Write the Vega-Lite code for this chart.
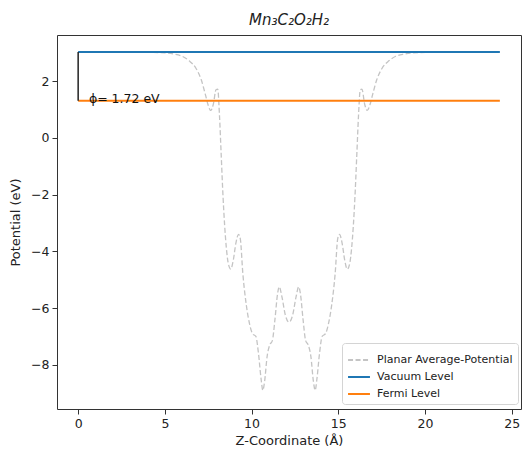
{
  "$schema": "https://vega.github.io/schema/vega-lite/v6.json",
  "width": 464,
  "height": 374,
  "autosize": {"type": "none"},
  "padding": {"left": 57, "top": 35, "right": 2, "bottom": 46},
  "background": "white",
  "config": {
    "font": "DejaVu Sans",
    "view": {"stroke": "#333333", "strokeWidth": 1},
    "axis": {"grid": false, "domain": false, "tickColor": "#333333", "tickSize": 5, "labelColor": "#222222", "titleColor": "#222222", "labelFontSize": 12.5, "titleFontSize": 13, "titleFontWeight": "normal", "labelPadding": 3},
    "legend": {"orient": "none", "legendX": 285, "legendY": 308, "fillColor": "white", "strokeColor": "#d4d4d4", "cornerRadius": 3, "padding": 5, "symbolType": "stroke", "symbolSize": 480, "symbolStrokeWidth": 2, "labelFontSize": 11, "labelColor": "#222222", "rowPadding": 0, "labelOffset": 6}
  },
  "title": {"text": "Mn₃C₂O₂H₂", "fontStyle": "italic", "fontWeight": "normal", "fontSize": 15, "color": "#222222", "offset": 7},
  "data": {"values": [
    {"z": 0, "v": 3.03, "series": "Planar Average-Potential"},
    {"z": 2, "v": 3.03, "series": "Planar Average-Potential"},
    {"z": 4, "v": 3.02, "series": "Planar Average-Potential"},
    {"z": 5, "v": 3.0, "series": "Planar Average-Potential"},
    {"z": 5.5, "v": 2.96, "series": "Planar Average-Potential"},
    {"z": 6.0, "v": 2.88, "series": "Planar Average-Potential"},
    {"z": 6.4, "v": 2.72, "series": "Planar Average-Potential"},
    {"z": 6.8, "v": 2.45, "series": "Planar Average-Potential"},
    {"z": 7.1, "v": 2.05, "series": "Planar Average-Potential"},
    {"z": 7.35, "v": 1.5, "series": "Planar Average-Potential"},
    {"z": 7.5, "v": 1.15, "series": "Planar Average-Potential"},
    {"z": 7.65, "v": 0.97, "series": "Planar Average-Potential"},
    {"z": 7.8, "v": 1.2, "series": "Planar Average-Potential"},
    {"z": 7.95, "v": 1.7, "series": "Planar Average-Potential"},
    {"z": 8.05, "v": 1.72, "series": "Planar Average-Potential"},
    {"z": 8.15, "v": 0.8, "series": "Planar Average-Potential"},
    {"z": 8.25, "v": -0.6, "series": "Planar Average-Potential"},
    {"z": 8.35, "v": -2.0, "series": "Planar Average-Potential"},
    {"z": 8.45, "v": -3.1, "series": "Planar Average-Potential"},
    {"z": 8.55, "v": -3.9, "series": "Planar Average-Potential"},
    {"z": 8.65, "v": -4.4, "series": "Planar Average-Potential"},
    {"z": 8.8, "v": -4.63, "series": "Planar Average-Potential"},
    {"z": 8.95, "v": -4.3, "series": "Planar Average-Potential"},
    {"z": 9.1, "v": -3.7, "series": "Planar Average-Potential"},
    {"z": 9.25, "v": -3.4, "series": "Planar Average-Potential"},
    {"z": 9.35, "v": -3.55, "series": "Planar Average-Potential"},
    {"z": 9.5, "v": -4.8, "series": "Planar Average-Potential"},
    {"z": 9.7, "v": -5.9, "series": "Planar Average-Potential"},
    {"z": 9.9, "v": -6.6, "series": "Planar Average-Potential"},
    {"z": 10.05, "v": -6.9, "series": "Planar Average-Potential"},
    {"z": 10.25, "v": -7.0, "series": "Planar Average-Potential"},
    {"z": 10.4, "v": -7.6, "series": "Planar Average-Potential"},
    {"z": 10.55, "v": -8.5, "series": "Planar Average-Potential"},
    {"z": 10.65, "v": -8.9, "series": "Planar Average-Potential"},
    {"z": 10.75, "v": -8.6, "series": "Planar Average-Potential"},
    {"z": 10.9, "v": -7.7, "series": "Planar Average-Potential"},
    {"z": 11.05, "v": -7.3, "series": "Planar Average-Potential"},
    {"z": 11.2, "v": -7.15, "series": "Planar Average-Potential"},
    {"z": 11.35, "v": -6.4, "series": "Planar Average-Potential"},
    {"z": 11.5, "v": -5.5, "series": "Planar Average-Potential"},
    {"z": 11.6, "v": -5.25, "series": "Planar Average-Potential"},
    {"z": 11.75, "v": -5.6, "series": "Planar Average-Potential"},
    {"z": 11.95, "v": -6.25, "series": "Planar Average-Potential"},
    {"z": 12.16, "v": -6.5, "series": "Planar Average-Potential"},
    {"z": 12.37, "v": -6.25, "series": "Planar Average-Potential"},
    {"z": 12.57, "v": -5.6, "series": "Planar Average-Potential"},
    {"z": 12.72, "v": -5.25, "series": "Planar Average-Potential"},
    {"z": 12.82, "v": -5.5, "series": "Planar Average-Potential"},
    {"z": 12.97, "v": -6.4, "series": "Planar Average-Potential"},
    {"z": 13.12, "v": -7.15, "series": "Planar Average-Potential"},
    {"z": 13.27, "v": -7.3, "series": "Planar Average-Potential"},
    {"z": 13.42, "v": -7.7, "series": "Planar Average-Potential"},
    {"z": 13.57, "v": -8.6, "series": "Planar Average-Potential"},
    {"z": 13.67, "v": -8.9, "series": "Planar Average-Potential"},
    {"z": 13.77, "v": -8.5, "series": "Planar Average-Potential"},
    {"z": 13.92, "v": -7.6, "series": "Planar Average-Potential"},
    {"z": 14.07, "v": -7.0, "series": "Planar Average-Potential"},
    {"z": 14.27, "v": -6.9, "series": "Planar Average-Potential"},
    {"z": 14.42, "v": -6.6, "series": "Planar Average-Potential"},
    {"z": 14.62, "v": -5.9, "series": "Planar Average-Potential"},
    {"z": 14.82, "v": -4.8, "series": "Planar Average-Potential"},
    {"z": 14.97, "v": -3.55, "series": "Planar Average-Potential"},
    {"z": 15.07, "v": -3.4, "series": "Planar Average-Potential"},
    {"z": 15.22, "v": -3.7, "series": "Planar Average-Potential"},
    {"z": 15.37, "v": -4.3, "series": "Planar Average-Potential"},
    {"z": 15.52, "v": -4.63, "series": "Planar Average-Potential"},
    {"z": 15.67, "v": -4.4, "series": "Planar Average-Potential"},
    {"z": 15.77, "v": -3.9, "series": "Planar Average-Potential"},
    {"z": 15.87, "v": -3.1, "series": "Planar Average-Potential"},
    {"z": 15.97, "v": -2.0, "series": "Planar Average-Potential"},
    {"z": 16.07, "v": -0.6, "series": "Planar Average-Potential"},
    {"z": 16.17, "v": 0.8, "series": "Planar Average-Potential"},
    {"z": 16.27, "v": 1.7, "series": "Planar Average-Potential"},
    {"z": 16.37, "v": 1.72, "series": "Planar Average-Potential"},
    {"z": 16.52, "v": 1.2, "series": "Planar Average-Potential"},
    {"z": 16.67, "v": 0.97, "series": "Planar Average-Potential"},
    {"z": 16.82, "v": 1.15, "series": "Planar Average-Potential"},
    {"z": 16.97, "v": 1.5, "series": "Planar Average-Potential"},
    {"z": 17.22, "v": 2.05, "series": "Planar Average-Potential"},
    {"z": 17.52, "v": 2.45, "series": "Planar Average-Potential"},
    {"z": 17.92, "v": 2.72, "series": "Planar Average-Potential"},
    {"z": 18.32, "v": 2.88, "series": "Planar Average-Potential"},
    {"z": 18.82, "v": 2.96, "series": "Planar Average-Potential"},
    {"z": 19.32, "v": 3.0, "series": "Planar Average-Potential"},
    {"z": 20.32, "v": 3.02, "series": "Planar Average-Potential"},
    {"z": 22.32, "v": 3.03, "series": "Planar Average-Potential"},
    {"z": 24.32, "v": 3.03, "series": "Planar Average-Potential"},
    {"z": 0, "v": 3.03, "series": "Vacuum Level"},
    {"z": 24.32, "v": 3.03, "series": "Vacuum Level"},
    {"z": 0, "v": 1.31, "series": "Fermi Level"},
    {"z": 24.32, "v": 1.31, "series": "Fermi Level"}
  ]},
  "layer": [
    {
      "transform": [{"filter": "datum.series === 'Planar Average-Potential'"}],
      "mark": {"type": "line", "interpolate": "monotone", "strokeWidth": 1.3},
      "encoding": {
        "x": {"field": "z", "type": "quantitative", "scale": {"domain": [-1.22, 25.54], "nice": false, "zero": false}, "axis": {"values": [0, 5, 10, 15, 20, 25], "title": "Z-Coordinate (Å)", "titlePadding": 5}},
        "y": {"field": "v", "type": "quantitative", "scale": {"domain": [-9.56, 3.63], "nice": false, "zero": false}, "axis": {"values": [-8, -6, -4, -2, 0, 2], "title": "Potential (eV)", "titlePadding": 8}},
        "color": {"field": "series", "type": "nominal", "scale": {"domain": ["Planar Average-Potential", "Vacuum Level", "Fermi Level"], "range": ["#c4c4c4", "#1f77b4", "#ff7f0e"]}, "legend": {"title": null}},
        "strokeDash": {"field": "series", "type": "nominal", "scale": {"domain": ["Planar Average-Potential", "Vacuum Level", "Fermi Level"], "range": [[5, 2.5], [1, 0], [1, 0]]}, "legend": {"title": null}}
      }
    },
    {
      "transform": [{"filter": "datum.series !== 'Planar Average-Potential'"}],
      "mark": {"type": "line", "strokeWidth": 2},
      "encoding": {
        "x": {"field": "z", "type": "quantitative"},
        "y": {"field": "v", "type": "quantitative"},
        "detail": {"field": "series"},
        "color": {"field": "series", "type": "nominal"},
        "strokeDash": {"field": "series", "type": "nominal"}
      }
    },
    {
      "data": {"values": [{"z": 0, "lo": 1.31, "hi": 3.03}]},
      "mark": {"type": "rule", "color": "#222222", "strokeWidth": 1.5},
      "encoding": {
        "x": {"field": "z", "type": "quantitative"},
        "y": {"field": "lo", "type": "quantitative"},
        "y2": {"field": "hi"}
      }
    },
    {
      "data": {"values": [{"z": 0.62, "v": 1.22, "label": "ϕ= 1.72 eV"}]},
      "mark": {"type": "text", "align": "left", "baseline": "alphabetic", "fontSize": 12.5, "color": "#111111"},
      "encoding": {
        "x": {"field": "z", "type": "quantitative"},
        "y": {"field": "v", "type": "quantitative"},
        "text": {"field": "label"}
      }
    }
  ],
  "resolve": {"legend": {"color": "shared", "strokeDash": "shared"}}
}
